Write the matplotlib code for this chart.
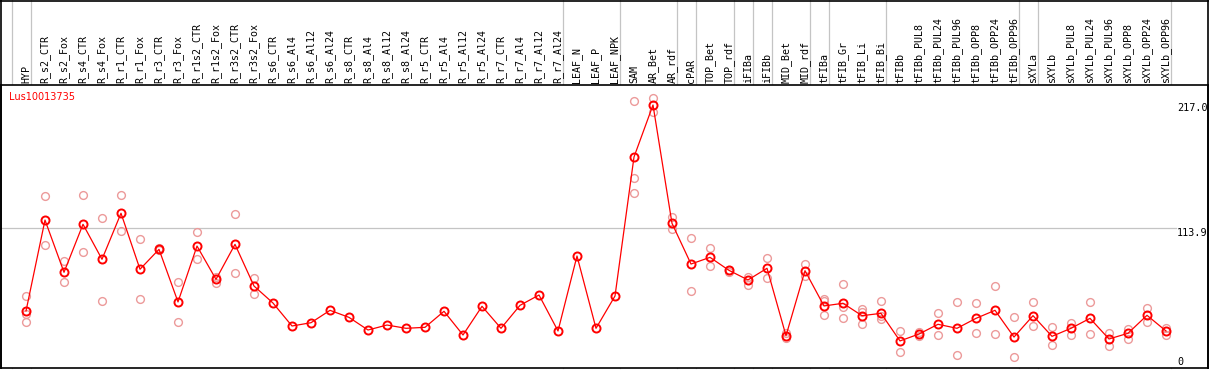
import matplotlib
matplotlib.use("Agg")
import matplotlib.pyplot as plt
from matplotlib.transforms import blended_transform_factory
from matplotlib.lines import Line2D

gene = "Lus10013735"

categories = [
    "HYP", "R_s2_CTR", "R_s2_Fox", "R_s4_CTR", "R_s4_Fox", "R_r1_CTR", "R_r1_Fox",
    "R_r3_CTR", "R_r3_Fox", "R_r1s2_CTR", "R_r1s2_Fox", "R_r3s2_CTR", "R_r3s2_Fox",
    "R_s6_CTR", "R_s6_Al4", "R_s6_Al12", "R_s6_Al24", "R_s8_CTR", "R_s8_Al4",
    "R_s8_Al12", "R_s8_Al24", "R_r5_CTR", "R_r5_Al4", "R_r5_Al12", "R_r5_Al24",
    "R_r7_CTR", "R_r7_Al4", "R_r7_Al12", "R_r7_Al24", "LEAF_N", "LEAF_P", "LEAF_NPK",
    "SAM", "AR_Bet", "AR_rdf", "cPAR", "TOP_Bet", "TOP_rdf", "iFIBa", "iFIBb",
    "MID_Bet", "MID_rdf", "tFIBa", "tFIB_Gr", "tFIB_Li", "tFIB_Bi", "tFIBb",
    "tFIBb_PUL8", "tFIBb_PUL24", "tFIBb_PUL96", "tFIBb_OPP8", "tFIBb_OPP24",
    "tFIBb_OPP96", "sXYLa", "sXYLb", "sXYLb_PUL8", "sXYLb_PUL24", "sXYLb_PUL96",
    "sXYLb_OPP8", "sXYLb_OPP24", "sXYLb_OPP96",
]

means = [
    45.8, 120.7, 77.7, 117.2, 88.4, 126.3, 80.2, 96.6, 53.3, 99.3, 71.9, 100.7, 66.4,
    52.4, 33.5, 36.2, 46.4, 40.6, 30.2, 34.3, 31.6, 32.4, 45.6, 26.1, 49.7, 31.6,
    50.5, 59.0, 29.4, 91.1, 31.6, 58.2,
    172.6, 215.4, 118.0, 84.5, 90.0, 79.3, 71.4, 81.0, 25.5, 79.0, 50.0, 52.2, 42.0,
    43.9, 21.2, 26.9, 34.9, 31.6, 39.8, 46.4, 24.4, 42.0, 25.0, 31.6, 39.8, 22.8,
    27.5, 42.3, 29.4,
]

replicates = [
    [58.1, 43.1, 36.8], [140.2, 99.9], [86.7, 69.5], [141.3, 94.2], [122.4, 53.8],
    [141.1, 111.4], [105.1, 55.5], [97.5, 95.7], [69.5, 36.8], [110.6, 88.4],
    [73.6, 69.1], [125.4, 76.9], [72.8, 59.8],
    [], [], [], [], [], [], [], [], [], [], [], [], [], [], [], [], [], [], [],
    [218.4, 155.1, 142.7], [221.4, 209.4], [123.2, 113.6], [105.7, 62.3],
    [97.7, 82.9], [79.9, 78.3], [74.1, 67.5], [89.5, 73.3], [27.5, 23.9],
    [84.8, 74.4], [56.0, 53.8, 42.3], [67.8, 48.9, 39.8], [47.2, 44.8, 34.9],
    [54.1, 41.7, 39.5], [29.4, 12.1], [28.8, 25.5], [43.9, 25.8], [53.0, 9.6],
    [52.2, 27.5], [66.2, 26.7], [40.7, 8.0], [53.0, 33.3], [32.4, 17.6],
    [36.2, 26.3], [53.0, 26.7], [27.5, 17.3], [31.0, 23.0], [48.1, 37.0],
    [31.6, 26.1],
]

# group separators drawn after these column indices
group_ends = [-1, 0, 28, 31, 34, 35, 37, 38, 39, 41, 42, 45, 52, 53, 60]

ref_values = [217.0, 113.9, 0]
ref_labels = ["217.0", "113.9", "0"]

W, H = 1209, 370
fig = plt.figure(figsize=(W / 100, H / 100), dpi=100)
ax = fig.add_axes([1 / W, 2 / H, 1207 / W, 283 / H])

# pixel mapping: column i at px 26 + 19 i
x_of = lambda px: (px - 26) / 19.0
ax.set_xlim(x_of(1), x_of(1208))
ax.set_ylim(-1.07, 231.85)
ax.set_xticks([])
ax.set_yticks([])
for s in ax.spines.values():
    s.set_color("black")
    s.set_linewidth(1.2)

xs = list(range(len(categories)))
gray = "#c4c4c4"

# horizontal reference line
ax.plot([x_of(1), x_of(1176)], [ref_values[1]] * 2, color=gray, lw=0.9, zorder=1)

bt = blended_transform_factory(ax.transData, fig.transFigure)
axes_bottom = 2 / H
for b in group_ends:
    xv = b + 0.24
    fig.add_artist(Line2D([xv, xv], [axes_bottom, 1.0], transform=bt,
                          color=gray, lw=0.9, zorder=0))

# replicates
for i, reps in enumerate(replicates):
    if reps:
        ax.plot([i] * len(reps), reps, linestyle="none", marker="o", ms=5.6,
                mfc="none", mec="#ec9a9a", mew=1.0, zorder=2)

# mean line
ax.plot(xs, means, color="#ff0000", lw=0.9, marker="o", ms=5.8, mfc="none",
        mec="#ff0000", mew=1.4, zorder=3)

# right labels
for v, lab in zip(ref_values, ref_labels):
    ax.text(x_of(1177), v, lab, ha="left", va="top" if v > 0 else "bottom",
            family="DejaVu Sans Mono", size=7.3, color="black", clip_on=True)

# gene name
fig.text(9 / W, 1 - 92 / H, gene, ha="left", va="top", color="#ff0000",
         family="DejaVu Sans", size=7)

# column labels
for i, c in enumerate(categories):
    fig.text(i, 1 - 83 / H, c, transform=bt, rotation=90, ha="center",
             va="bottom", family="DejaVu Sans Mono", size=7.2, color="black")

# outer frame lines
fig.add_artist(Line2D([0, 1], [1 - 0.6 / H, 1 - 0.6 / H], transform=fig.transFigure,
                      color="black", lw=1.2))
fig.add_artist(Line2D([1 / W, 1 / W], [axes_bottom, 1], transform=fig.transFigure,
                      color="black", lw=1.2))
fig.add_artist(Line2D([1208 / W, 1208 / W], [axes_bottom, 1], transform=fig.transFigure,
                      color="black", lw=1.2))

fig.savefig("out.png", dpi=100)
